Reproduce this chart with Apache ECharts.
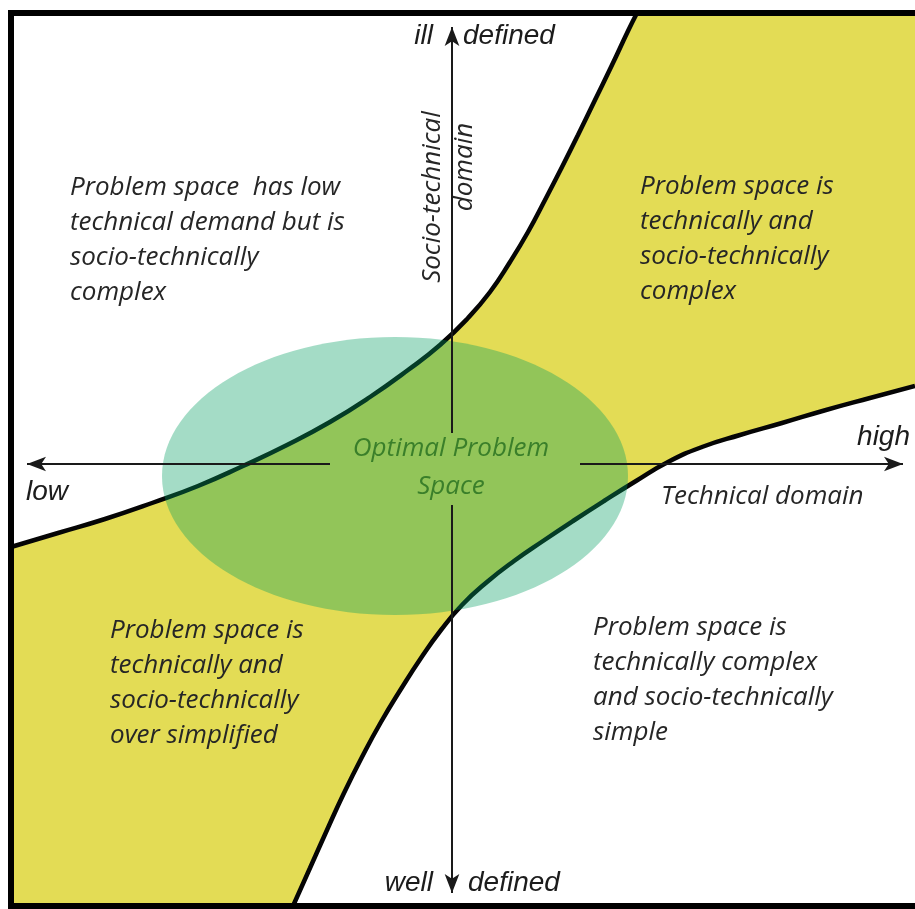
<!DOCTYPE html>
<html><head><meta charset="utf-8">
<script src="https://cdn.jsdelivr.net/npm/echarts@6/dist/echarts.min.js"></script>
<style>html,body{margin:0;padding:0;background:#fff}#c{width:915px;height:909px}</style>
</head><body><div id="c"></div>
<script>
// Conceptual domain units: origin = crossing of the two axes
const upperBoundary = [[-4.41,-0.83],[-3.94,-0.69],[-3.47,-0.55],[-3.00,-0.39],[-2.54,-0.22],[-2.09,-0.02],[-1.65,0.19],[-1.22,0.42],[-0.82,0.67],[-0.44,0.94],[-0.12,1.19],[0.16,1.46],[0.38,1.72],[0.58,2.02],[0.76,2.32],[0.93,2.64],[1.10,2.97],[1.26,3.29],[1.43,3.64],[1.60,3.99],[1.76,4.33],[1.85,4.51]];
const lowerBoundary = [[-1.59,-4.42],[-1.42,-4.04],[-1.25,-3.66],[-1.08,-3.29],[-0.90,-2.93],[-0.71,-2.58],[-0.51,-2.25],[-0.31,-1.94],[-0.11,-1.66],[0.10,-1.41],[0.35,-1.18],[0.62,-0.97],[0.91,-0.77],[1.21,-0.57],[1.52,-0.37],[1.84,-0.17],[2.16,0.02],[2.50,0.17],[2.88,0.29],[3.30,0.41],[3.74,0.54],[4.18,0.66],[4.63,0.78]];
const optimalZone = [[-0.57,-0.12,2.33,1.39]]; // cx, cy, rx, ry

const quadrantTexts = [
  "Problem space  has low\ntechnical demand but is\nsocio-technically\ncomplex",
  "Problem space is\ntechnically and\nsocio-technically\ncomplex",
  "Problem space is\ntechnically and\nsocio-technically\nover simplified",
  "Problem space is\ntechnically complex\nand socio-technically\nsimple"
];
const quadrantAnchors = [[-3.82,2.94],[1.88,2.95],[-3.42,-1.49],[1.41,-1.46]];
const axisEndTexts = ["ill","defined","well","defined","high","low"];
const axisEndAnchors = [[-0.19,4.28],[0.11,4.28],[-0.19,-4.19],[0.16,-4.19],[4.58,0.27],[-4.26,-0.28]];
const axisEndAlign = ["right","left","right","left","right","left"];
const axisTitles = ["Technical domain","Socio-technical","domain"];
const axisTitleAnchors = [[2.09,-0.33],[-0.19,2.67],[0.13,2.97]];
const centreText = ["Optimal Problem","Space"];
const centreAnchors = [[-0.01,0.15],[-0.01,-0.23]];

const X_MIN=-4.41, X_MAX=4.63, Y_MIN=-4.42, Y_MAX=4.51;
const axisSegments = [
  [[-1.22,0],[-4.25,0]],
  [[1.28,0],[4.51,0]],
  [[0,0.31],[0,4.37]],
  [[0,-0.41],[0,-4.29]]
];

const quadFont = {fontFamily:'"Open Sans", "Noto Sans", sans-serif', fontStyle:'italic', fontWeight:500, fontSize:26, lineHeight:35, color:'#262626', opacity:1};
const endFont = {fontFamily:'"Liberation Sans", Arial, sans-serif', fontStyle:'italic', fontSize:28, color:'#1c1c1c', opacity:1};

const labelData = [];
quadrantTexts.forEach((t,i)=>labelData.push({value:quadrantAnchors[i], label:Object.assign({show:true, formatter:t, position:[0,0], align:'left', verticalAlign:'top'}, quadFont)}));
axisEndTexts.forEach((t,i)=>labelData.push({value:axisEndAnchors[i], label:Object.assign({show:true, formatter:t, position:[0,0], align:axisEndAlign[i], verticalAlign:'middle'}, endFont)}));
labelData.push({value:axisTitleAnchors[0], label:Object.assign({show:true, formatter:axisTitles[0], position:[0,0], align:'left', verticalAlign:'middle'}, quadFont)});
labelData.push({value:axisTitleAnchors[1], label:Object.assign({show:true, formatter:axisTitles[1], position:[0,0], align:'center', verticalAlign:'middle', rotate:90}, quadFont)});
labelData.push({value:axisTitleAnchors[2], label:Object.assign({show:true, formatter:axisTitles[2], position:[0,0], align:'center', verticalAlign:'middle', rotate:90}, quadFont)});
centreText.forEach((t,i)=>labelData.push({value:centreAnchors[i], label:Object.assign({show:true, formatter:t, position:[0,0], align:'center', verticalAlign:'middle'}, quadFont, {color:'#3a7f2a'})}));

const curveSmooth = 0.5;
const chart = echarts.init(document.getElementById('c'), null, {renderer:'canvas'});
chart.setOption({
  animation:false,
  grid:{left:11, top:13, right:0, bottom:3, show:true, backgroundColor:'#e3dc55', borderWidth:0},
  xAxis:{type:'value', min:X_MIN, max:X_MAX, show:false},
  yAxis:{type:'value', min:Y_MIN, max:Y_MAX, show:false},
  series:[
    {type:'line', z:1, data:upperBoundary, smooth:curveSmooth, symbol:'none', lineStyle:{width:0}, areaStyle:{color:'#ffffff', opacity:1, origin:'end'}, silent:true},
    {type:'line', z:1, data:lowerBoundary, smooth:curveSmooth, symbol:'none', lineStyle:{width:0}, areaStyle:{color:'#ffffff', opacity:1, origin:'start'}, silent:true},
    {type:'line', z:2, data:upperBoundary, smooth:curveSmooth, symbol:'none', lineStyle:{width:4.5, color:'#050505'}, silent:true},
    {type:'line', z:2, data:lowerBoundary, smooth:curveSmooth, symbol:'none', lineStyle:{width:4.5, color:'#050505'}, silent:true},
    {type:'custom', z:3, data:optimalZone, silent:true,
      renderItem:(params, api)=>{
        const c = api.coord([api.value(0), api.value(1)]);
        const s = api.size([api.value(2), api.value(3)]);
        return {type:'ellipse', shape:{cx:c[0], cy:c[1], rx:s[0], ry:s[1]}, style:{fill:'rgba(2,158,97,0.36)'}};
      }},
    {type:'scatter', z:5, data:labelData, symbolSize:0, silent:true, itemStyle:{opacity:1},
      markLine:{silent:true, z:5, symbol:['none','arrow'], symbolSize:[11,19], label:{show:false},
        lineStyle:{color:'#1a1a1a', width:2, type:'solid', opacity:1},
        data:axisSegments.map(s=>[{coord:s[0]},{coord:s[1]}])}},
    {type:'custom', z:6, data:[[X_MIN,Y_MIN]], silent:true, clip:false,
      renderItem:(params, api)=>{
        const cs = params.coordSys;
        return {type:'polyline', shape:{points:[[cs.x+cs.width+20, cs.y],[cs.x, cs.y],[cs.x, cs.y+cs.height],[cs.x+cs.width+20, cs.y+cs.height]]},
          style:{stroke:'#000', lineWidth:6, fill:null, lineJoin:'miter'}};
      }}
  ]
});
</script></body></html>
